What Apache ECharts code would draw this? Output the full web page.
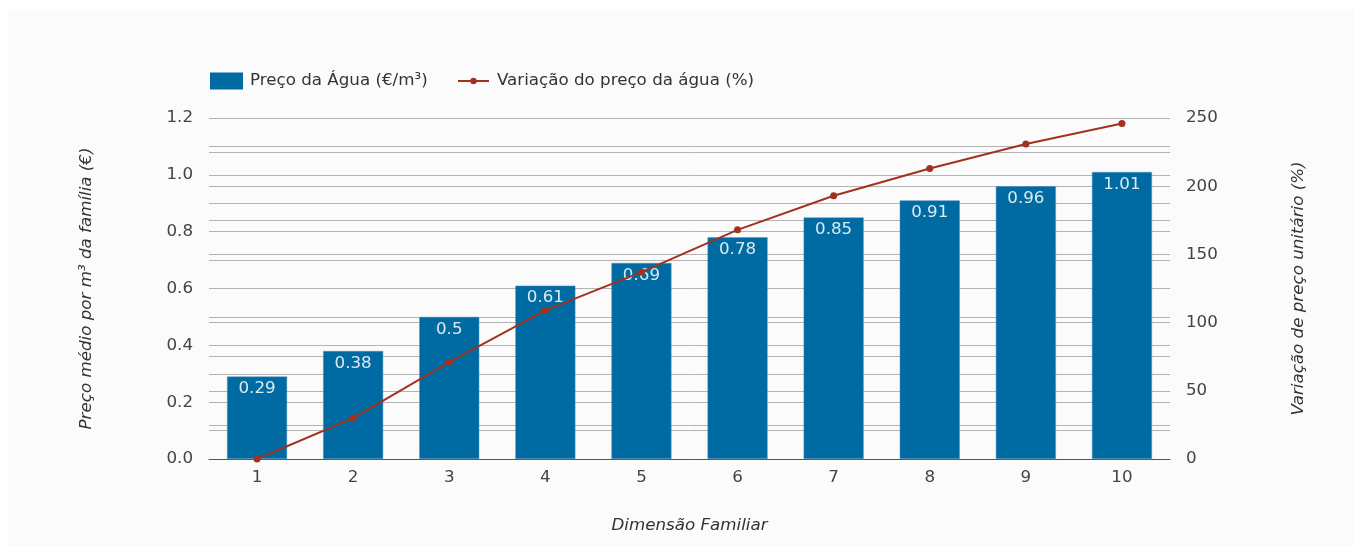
<!DOCTYPE html>
<html>
<head>
<meta charset="utf-8">
<script src="https://cdn.jsdelivr.net/npm/echarts@6/dist/echarts.min.js"></script>
<style>
html,body{margin:0;padding:0;background:#ffffff;}
#wrap{position:absolute;left:8px;top:11px;width:1346px;height:535px;background:#fbfbfb;}
#chart{position:absolute;left:-8px;top:-11px;width:1362px;height:557px;}
</style>
</head>
<body>
<div id="wrap"><div id="chart"></div></div>
<script>
const categories = ['1','2','3','4','5','6','7','8','9','10'];
const precoAgua = [0.29, 0.38, 0.5, 0.61, 0.69, 0.78, 0.85, 0.91, 0.96, 1.01];
const variacaoPreco = [0, 30, 71, 109, 137, 168, 193, 213, 231, 246];
const seriesNames = ['Preço da Água (€/m³)', 'Variação do preço da água (%)'];

const font = 'DejaVu Sans';
const fs = 16.7;
const gridColor = '#b3b3b3';
const lineColor = '#a0321f';
const chart = echarts.init(document.getElementById('chart'));
chart.setOption({
  animation: false,
  textStyle: { fontFamily: font },
  legend: [
    {
      left: 210, top: 71, padding: 0,
      itemWidth: 33, itemHeight: 17,
      textStyle: { fontFamily: font, fontSize: fs, color: '#333', lineHeight: 20, padding: [0, 0, 0, 2] },
      data: [{ name: seriesNames[0], icon: 'rect', itemStyle: { borderWidth: 0 } }]
    },
    {
      left: 457, top: 71, padding: 0,
      itemWidth: 31, itemHeight: 8,
      textStyle: { fontFamily: font, fontSize: fs, color: '#333', lineHeight: 20, padding: [0, 0, 0, 3] },
      data: [{ name: seriesNames[1] }]
    }
  ],
  grid: { left: 209, right: 192, top: 118, bottom: 98, containLabel: false },
  xAxis: {
    type: 'category',
    data: categories,
    name: 'Dimensão Familiar',
    nameLocation: 'middle',
    nameGap: 58,
    nameTextStyle: { fontFamily: font, fontStyle: 'italic', fontSize: fs, color: '#333' },
    axisLine: { lineStyle: { color: '#555', width: 1 } },
    axisTick: { show: false },
    axisLabel: { fontFamily: font, fontSize: fs, color: '#444', margin: 10 }
  },
  yAxis: [
    {
      type: 'value', min: 0, max: 1.2, interval: 0.2,
      name: 'Preço médio por m³ da família (€)',
      nameLocation: 'middle', nameGap: 114,
      nameTextStyle: { fontFamily: font, fontStyle: 'italic', fontSize: fs, color: '#333' },
      axisLine: { show: false }, axisTick: { show: false },
      axisLabel: { fontFamily: font, fontSize: fs, color: '#444', margin: 16, formatter: v => v.toFixed(1) },
      splitLine: { show: true, lineStyle: { color: gridColor, width: 1 } },
      minorTick: { show: false, splitNumber: 2 },
      minorSplitLine: { show: true, lineStyle: { color: gridColor, width: 1 } }
    },
    {
      type: 'value', min: 0, max: 250, interval: 50,
      name: 'Variação de preço unitário (%)',
      nameLocation: 'middle', nameGap: 120,
      nameRotate: 90,
      nameTextStyle: { fontFamily: font, fontStyle: 'italic', fontSize: fs, color: '#333' },
      axisLine: { show: false }, axisTick: { show: false },
      axisLabel: { fontFamily: font, fontSize: fs, color: '#444', margin: 16 },
      splitLine: { show: true, lineStyle: { color: gridColor, width: 1 } },
      minorTick: { show: false, splitNumber: 2 },
      minorSplitLine: { show: true, lineStyle: { color: gridColor, width: 1 } }
    }
  ],
  series: [
    {
      name: seriesNames[0],
      type: 'bar',
      yAxisIndex: 0,
      data: precoAgua,
      barWidth: 60,
      itemStyle: { color: '#006ba3', borderColor: '#4f8fba', borderWidth: 0.5 },
      label: {
        show: true, position: 'insideTop', distance: 4,
        fontFamily: font, fontSize: fs, color: '#dbe9f2'
      }
    },
    {
      name: seriesNames[1],
      type: 'line',
      yAxisIndex: 1,
      data: variacaoPreco,
      symbol: 'circle', symbolSize: 7,
      lineStyle: { color: lineColor, width: 2 },
      itemStyle: { color: lineColor },
      z: 5
    }
  ]
});
</script>
</body>
</html>
